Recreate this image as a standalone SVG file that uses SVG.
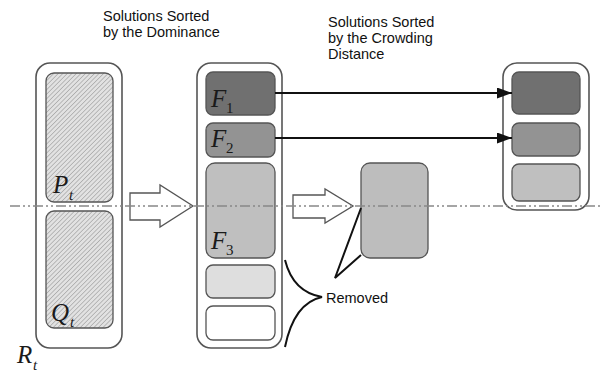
<svg xmlns="http://www.w3.org/2000/svg" width="610" height="372" viewBox="0 0 610 372">
<style>
.cap{font-family:"Liberation Sans",Arial,sans-serif;font-size:14.5px;fill:#111}
.sym{font-family:"Liberation Serif","Times New Roman",serif;font-style:italic;font-size:25px;fill:#1a1a1a}
.sub{font-family:"Liberation Serif","Times New Roman",serif;font-size:15px;fill:#1a1a1a}
.subi{font-family:"Liberation Serif","Times New Roman",serif;font-style:italic;font-size:15px;fill:#1a1a1a}
.outer{fill:#fff;stroke:#555;stroke-width:1.6}
.inner{stroke:#555;stroke-width:1.3}
.hollow{fill:#fff;stroke:#555;stroke-width:1.3}
.conn{fill:none;stroke:#111;stroke-width:2}
</style>
<defs>
<pattern id="hatch" patternUnits="userSpaceOnUse" width="3.2" height="3.2" patternTransform="rotate(45)">
<rect width="3.2" height="3.2" fill="#e2e2e2"/>
<line x1="0" y1="0" x2="0" y2="3.2" stroke="#9c9c9c" stroke-width="1.2"/>
</pattern>
<marker id="ah" markerWidth="15" markerHeight="11" refX="15" refY="5.5" orient="auto" markerUnits="userSpaceOnUse">
<path d="M0,0 L15,5.5 L0,11 z" fill="#111"/>
</marker>
</defs>
<rect width="610" height="372" fill="#fff"/>

<text class="cap" x="103" y="21">Solutions Sorted</text>
<text class="cap" x="103" y="37">by the Dominance</text>
<text class="cap" x="328" y="27">Solutions Sorted</text>
<text class="cap" x="328" y="43">by the Crowding</text>
<text class="cap" x="328" y="59">Distance</text>

<g id="Rt">
<rect class="outer" x="36" y="63" width="86" height="285" rx="14"/>
<text class="sym" x="17" y="363">R</text><text class="subi" x="33" y="370">t</text>
</g>
<g id="Pt">
<rect class="inner" fill="url(#hatch)" x="46" y="73" width="67" height="129" rx="8"/>
<text class="sym" x="53" y="193">P</text><text class="subi" x="69" y="200">t</text>
</g>
<g id="Qt">
<rect class="inner" fill="url(#hatch)" x="46" y="211" width="67" height="117" rx="8"/>
<text class="sym" x="51" y="321">Q</text><text class="subi" x="70" y="327">t</text>
</g>

<g id="sorted">
<rect class="outer" x="197" y="63" width="85" height="285" rx="14"/>
</g>
<g id="F1">
<rect class="inner" fill="#707070" x="206" y="72" width="69" height="43" rx="7"/>
<text class="sym" x="211" y="107">F</text><text class="sub" x="226" y="113">1</text>
</g>
<g id="F2">
<rect class="inner" fill="#939393" x="206" y="123" width="69" height="34" rx="7"/>
<text class="sym" x="211" y="147">F</text><text class="sub" x="226" y="153">2</text>
</g>
<g id="F3">
<rect class="inner" fill="#bfbfbf" x="206" y="163" width="69" height="95" rx="9"/>
<text class="sym" x="211" y="249">F</text><text class="sub" x="226" y="255">3</text>
</g>
<g id="F4">
<rect class="inner" fill="#dedede" x="206" y="265" width="69" height="33" rx="7"/>
</g>
<g id="F5">
<rect class="inner" fill="#fff" x="206" y="306" width="69" height="34" rx="7"/>
</g>

<g id="removed">
<rect class="inner" fill="#bdbdbd" x="361" y="163" width="67" height="95" rx="9"/>
<text class="cap" x="326" y="303">Removed</text>
</g>

<g id="next">
<rect class="outer" x="503" y="63" width="86" height="147" rx="14"/>
<rect class="inner" fill="#707070" x="512" y="72" width="68" height="42" rx="7"/>
<rect class="inner" fill="#939393" x="512" y="123" width="68" height="33" rx="7"/>
<rect class="inner" fill="#bfbfbf" x="512" y="164" width="68" height="37" rx="7"/>
</g>

<g id="connectors">
<polygon class="hollow" points="130,193 160,193 160,185 193,206 160,227 160,220 130,220"/>
<polygon class="hollow" points="293,195 325,195 325,189 353,206 325,223 325,218 293,218"/>
<line class="conn" x1="275" y1="93" x2="512" y2="93" marker-end="url(#ah)"/>
<line class="conn" x1="275" y1="138" x2="512" y2="138" marker-end="url(#ah)"/>
<path class="conn" d="M361,208 L335,278 L361,255"/>
<path class="conn" d="M285,260 Q293,292 322,297 Q294,303 285,347"/>
<line x1="10" y1="206" x2="600" y2="206" stroke="#888" stroke-width="1.5" stroke-dasharray="10 3 2 3 2 3"/>
</g>
</svg>
